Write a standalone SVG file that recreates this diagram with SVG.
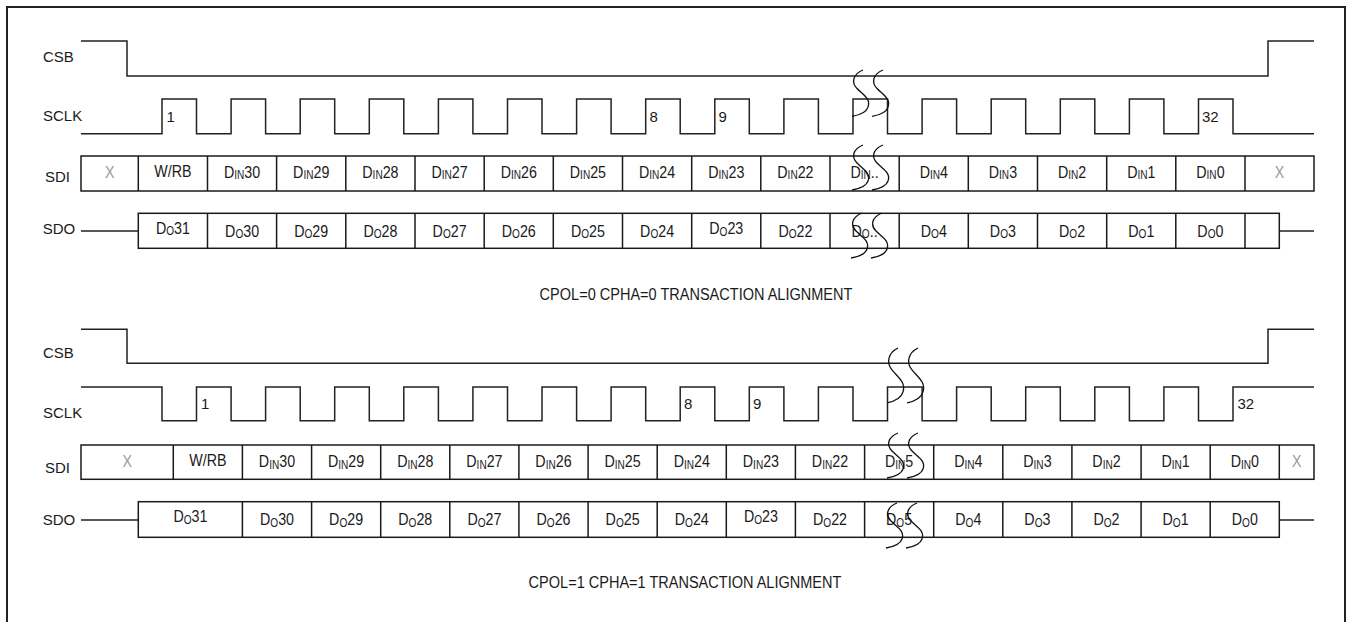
<svg xmlns="http://www.w3.org/2000/svg" xmlns:xlink="http://www.w3.org/1999/xlink" width="1351" height="622" viewBox="0 0 1351 622">
<style>
.ln{fill:none;stroke:#222;stroke-width:1.5}
.bx{fill:none;stroke:#1a1a1a;stroke-width:1.5}
.brk{fill:none;stroke:#111;stroke-width:1.3;vector-effect:non-scaling-stroke}
.nm{font-family:'Liberation Sans',Arial,sans-serif;font-size:15px;fill:#1a1a1a}
.c{font-family:'Liberation Sans',Arial,sans-serif;font-size:17px;fill:#1a1a1a;text-anchor:middle}
.s{font-size:12px}
.x{fill:#9a9a9a}
.t{font-family:'Liberation Sans',Arial,sans-serif;font-size:17px;fill:#1a1a1a;text-anchor:middle}
</style>
<defs>
<path id="brk" class="brk" d="M0,0 C-10,4 -12,12 -6,18 C0,24 8,28 5,36 C3,42 -5,44 -11,45"/>
</defs>
<rect width="1351" height="622" fill="#fff"/>
<path d="M7 622 V7 H1345 V622" fill="none" stroke="#222" stroke-width="2"/>

<!-- TOP: CPOL=0 CPHA=0 -->
<g id="top-csb">
<text class="nm" x="43" y="62.3">CSB</text>
<path class="ln" d="M81 41 H127 V76 H1268 V41 H1314"/>
</g>
<g id="top-sclk">
<text class="nm" x="43" y="120.7">SCLK</text>
<path class="ln" d="M81 133.7 H162 V99 H196.5 V133.7 H231.1 V99 H265.6 V133.7 H300.2 V99 H334.7 V133.7 H369.3 V99 H403.8 V133.7 H438.4 V99 H472.9 V133.7 H507.5 V99 H542 V133.7 H576.6 V99 H611.1 V133.7 H645.7 V99 H680.2 V133.7 H714.8 V99 H749.3 V133.7 H783.9 V99 H818.4 V133.7 H853 V99 H887.5 V133.7 H922.1 V99 H956.6 V133.7 H991.2 V99 H1025.7 V133.7 H1060.3 V99 H1094.8 V133.7 H1129.4 V99 H1163.9 V133.7 H1198.5 V99 H1233 V133.7 H1314"/>
<text class="nm" x="166.5" y="122">1</text>
<text class="nm" x="649.5" y="122">8</text>
<text class="nm" x="718.5" y="122">9</text>
<text class="nm" x="1202" y="122">32</text>
</g>
<g id="top-sdi">
<text class="nm" x="45" y="181.7">SDI</text>
<rect class="bx" x="81" y="156" width="1233" height="35"/>
<path class="bx" d="M138.3 156V191M207.5 156V191M276.6 156V191M345.8 156V191M415 156V191M484.2 156V191M553.3 156V191M622.5 156V191M691.7 156V191M760.8 156V191M830 156V191M899.2 156V191M968.3 156V191M1037.5 156V191M1106.7 156V191M1175.8 156V191M1245 156V191"/>
<text class="c x" transform="translate(109.7 177.5) scale(.84 1)">X</text>
<text class="c" transform="translate(172.9 177) scale(.84 1)">W/RB</text>
<text class="c" transform="translate(242.1 177.5) scale(.84 1)">D<tspan class="s" dy="1.5">IN</tspan><tspan dy="-1.5">30</tspan></text>
<text class="c" transform="translate(311.2 177.5) scale(.84 1)">D<tspan class="s" dy="1.5">IN</tspan><tspan dy="-1.5">29</tspan></text>
<text class="c" transform="translate(380.4 177.5) scale(.84 1)">D<tspan class="s" dy="1.5">IN</tspan><tspan dy="-1.5">28</tspan></text>
<text class="c" transform="translate(449.6 177.5) scale(.84 1)">D<tspan class="s" dy="1.5">IN</tspan><tspan dy="-1.5">27</tspan></text>
<text class="c" transform="translate(518.8 177.5) scale(.84 1)">D<tspan class="s" dy="1.5">IN</tspan><tspan dy="-1.5">26</tspan></text>
<text class="c" transform="translate(587.9 177.5) scale(.84 1)">D<tspan class="s" dy="1.5">IN</tspan><tspan dy="-1.5">25</tspan></text>
<text class="c" transform="translate(657.1 177.5) scale(.84 1)">D<tspan class="s" dy="1.5">IN</tspan><tspan dy="-1.5">24</tspan></text>
<text class="c" transform="translate(726.3 177.5) scale(.84 1)">D<tspan class="s" dy="1.5">IN</tspan><tspan dy="-1.5">23</tspan></text>
<text class="c" transform="translate(795.4 177.5) scale(.84 1)">D<tspan class="s" dy="1.5">IN</tspan><tspan dy="-1.5">22</tspan></text>
<text class="c" transform="translate(864.6 177.5) scale(.84 1)">D<tspan class="s" dy="1.5">IN</tspan><tspan dy="-1.5">..</tspan></text>
<text class="c" transform="translate(933.8 177.5) scale(.84 1)">D<tspan class="s" dy="1.5">IN</tspan><tspan dy="-1.5">4</tspan></text>
<text class="c" transform="translate(1002.9 177.5) scale(.84 1)">D<tspan class="s" dy="1.5">IN</tspan><tspan dy="-1.5">3</tspan></text>
<text class="c" transform="translate(1072.1 177.5) scale(.84 1)">D<tspan class="s" dy="1.5">IN</tspan><tspan dy="-1.5">2</tspan></text>
<text class="c" transform="translate(1141.3 177.5) scale(.84 1)">D<tspan class="s" dy="1.5">IN</tspan><tspan dy="-1.5">1</tspan></text>
<text class="c" transform="translate(1210.4 177.5) scale(.84 1)">D<tspan class="s" dy="1.5">IN</tspan><tspan dy="-1.5">0</tspan></text>
<text class="c x" transform="translate(1279.5 177.5) scale(.84 1)">X</text>
</g>
<g id="top-sdo">
<text class="nm" x="42.7" y="234">SDO</text>
<path class="ln" d="M81 231 H138.3 M1279.3 231 H1314"/>
<rect class="bx" x="138.3" y="213.3" width="1141" height="35"/>
<path class="bx" d="M207.5 213.3V248.3M276.6 213.3V248.3M345.8 213.3V248.3M415 213.3V248.3M484.2 213.3V248.3M553.3 213.3V248.3M622.5 213.3V248.3M691.7 213.3V248.3M760.8 213.3V248.3M830 213.3V248.3M899.2 213.3V248.3M968.3 213.3V248.3M1037.5 213.3V248.3M1106.7 213.3V248.3M1175.8 213.3V248.3M1245 213.3V248.3"/>
<text class="c" transform="translate(172.9 233.5) scale(.84 1)">D<tspan class="s" dy="1.5">O</tspan><tspan dy="-1.5">31</tspan></text>
<text class="c" transform="translate(242.1 236.5) scale(.84 1)">D<tspan class="s" dy="1.5">O</tspan><tspan dy="-1.5">30</tspan></text>
<text class="c" transform="translate(311.2 236.5) scale(.84 1)">D<tspan class="s" dy="1.5">O</tspan><tspan dy="-1.5">29</tspan></text>
<text class="c" transform="translate(380.4 236.5) scale(.84 1)">D<tspan class="s" dy="1.5">O</tspan><tspan dy="-1.5">28</tspan></text>
<text class="c" transform="translate(449.6 236.5) scale(.84 1)">D<tspan class="s" dy="1.5">O</tspan><tspan dy="-1.5">27</tspan></text>
<text class="c" transform="translate(518.8 236.5) scale(.84 1)">D<tspan class="s" dy="1.5">O</tspan><tspan dy="-1.5">26</tspan></text>
<text class="c" transform="translate(587.9 236.5) scale(.84 1)">D<tspan class="s" dy="1.5">O</tspan><tspan dy="-1.5">25</tspan></text>
<text class="c" transform="translate(657.1 236.5) scale(.84 1)">D<tspan class="s" dy="1.5">O</tspan><tspan dy="-1.5">24</tspan></text>
<text class="c" transform="translate(726.3 234) scale(.84 1)">D<tspan class="s" dy="1.5">O</tspan><tspan dy="-1.5">23</tspan></text>
<text class="c" transform="translate(795.4 236.5) scale(.84 1)">D<tspan class="s" dy="1.5">O</tspan><tspan dy="-1.5">22</tspan></text>
<text class="c" transform="translate(864.6 236.5) scale(.84 1)">D<tspan class="s" dy="1.5">O</tspan><tspan dy="-1.5">..</tspan></text>
<text class="c" transform="translate(933.8 236.5) scale(.84 1)">D<tspan class="s" dy="1.5">O</tspan><tspan dy="-1.5">4</tspan></text>
<text class="c" transform="translate(1002.9 236.5) scale(.84 1)">D<tspan class="s" dy="1.5">O</tspan><tspan dy="-1.5">3</tspan></text>
<text class="c" transform="translate(1072.1 236.5) scale(.84 1)">D<tspan class="s" dy="1.5">O</tspan><tspan dy="-1.5">2</tspan></text>
<text class="c" transform="translate(1141.3 236.5) scale(.84 1)">D<tspan class="s" dy="1.5">O</tspan><tspan dy="-1.5">1</tspan></text>
<text class="c" transform="translate(1210.4 236.5) scale(.84 1)">D<tspan class="s" dy="1.5">O</tspan><tspan dy="-1.5">0</tspan></text>
</g>
<g id="top-breaks">
<use xlink:href="#brk" href="#brk" transform="translate(863,70) scale(1,1.03)"/>
<use xlink:href="#brk" href="#brk" transform="translate(883,70) scale(1,1.03)"/>
<use xlink:href="#brk" href="#brk" transform="translate(863,145)"/>
<use xlink:href="#brk" href="#brk" transform="translate(883,145)"/>
<use xlink:href="#brk" href="#brk" transform="translate(862,213)"/>
<use xlink:href="#brk" href="#brk" transform="translate(882,213)"/>
</g>
<text id="top-title" class="t" transform="translate(696 299.5) scale(.855 1)">CPOL=0 CPHA=0 TRANSACTION ALIGNMENT</text>

<!-- BOTTOM: CPOL=1 CPHA=1 -->
<g id="bot-csb">
<text class="nm" x="43" y="358.3">CSB</text>
<path class="ln" d="M81 329.3 H127 V363.3 H1268 V329.3 H1314"/>
</g>
<g id="bot-sclk">
<text class="nm" x="43" y="417.7">SCLK</text>
<path class="ln" d="M81 387 H162 V420.7 H196.5 V387 H231.1 V420.7 H265.6 V387 H300.2 V420.7 H334.7 V387 H369.3 V420.7 H403.8 V387 H438.4 V420.7 H472.9 V387 H507.5 V420.7 H542 V387 H576.6 V420.7 H611.1 V387 H645.7 V420.7 H680.2 V387 H714.8 V420.7 H749.3 V387 H783.9 V420.7 H818.4 V387 H853 V420.7 H887.5 V387 H922.1 V420.7 H956.6 V387 H991.2 V420.7 H1025.7 V387 H1060.3 V420.7 H1094.8 V387 H1129.4 V420.7 H1163.9 V387 H1198.5 V420.7 H1233 V387 H1314"/>
<text class="nm" x="201" y="409">1</text>
<text class="nm" x="684" y="409">8</text>
<text class="nm" x="753" y="409">9</text>
<text class="nm" x="1237.5" y="409">32</text>
</g>
<g id="bot-sdi">
<text class="nm" x="45" y="472.7">SDI</text>
<rect class="bx" x="81" y="445" width="1233" height="34.3"/>
<path class="bx" d="M173.3 445V479.3M242.4 445V479.3M311.6 445V479.3M380.7 445V479.3M449.8 445V479.3M518.9 445V479.3M588.1 445V479.3M657.2 445V479.3M726.3 445V479.3M795.4 445V479.3M864.6 445V479.3M933.7 445V479.3M1002.8 445V479.3M1071.9 445V479.3M1141.1 445V479.3M1210.2 445V479.3M1279.3 445V479.3"/>
<text class="c x" transform="translate(127.2 467) scale(.84 1)">X</text>
<text class="c" transform="translate(207.9 466) scale(.84 1)">W/RB</text>
<text class="c" transform="translate(277 467) scale(.84 1)">D<tspan class="s" dy="1.5">IN</tspan><tspan dy="-1.5">30</tspan></text>
<text class="c" transform="translate(346.1 467) scale(.84 1)">D<tspan class="s" dy="1.5">IN</tspan><tspan dy="-1.5">29</tspan></text>
<text class="c" transform="translate(415.3 467) scale(.84 1)">D<tspan class="s" dy="1.5">IN</tspan><tspan dy="-1.5">28</tspan></text>
<text class="c" transform="translate(484.4 467) scale(.84 1)">D<tspan class="s" dy="1.5">IN</tspan><tspan dy="-1.5">27</tspan></text>
<text class="c" transform="translate(553.5 467) scale(.84 1)">D<tspan class="s" dy="1.5">IN</tspan><tspan dy="-1.5">26</tspan></text>
<text class="c" transform="translate(622.6 467) scale(.84 1)">D<tspan class="s" dy="1.5">IN</tspan><tspan dy="-1.5">25</tspan></text>
<text class="c" transform="translate(691.8 467) scale(.84 1)">D<tspan class="s" dy="1.5">IN</tspan><tspan dy="-1.5">24</tspan></text>
<text class="c" transform="translate(760.9 467) scale(.84 1)">D<tspan class="s" dy="1.5">IN</tspan><tspan dy="-1.5">23</tspan></text>
<text class="c" transform="translate(830 467) scale(.84 1)">D<tspan class="s" dy="1.5">IN</tspan><tspan dy="-1.5">22</tspan></text>
<text class="c" transform="translate(899.1 467) scale(.84 1)">D<tspan class="s" dy="1.5">IN</tspan><tspan dy="-1.5">5</tspan></text>
<text class="c" transform="translate(968.3 467) scale(.84 1)">D<tspan class="s" dy="1.5">IN</tspan><tspan dy="-1.5">4</tspan></text>
<text class="c" transform="translate(1037.4 467) scale(.84 1)">D<tspan class="s" dy="1.5">IN</tspan><tspan dy="-1.5">3</tspan></text>
<text class="c" transform="translate(1106.5 467) scale(.84 1)">D<tspan class="s" dy="1.5">IN</tspan><tspan dy="-1.5">2</tspan></text>
<text class="c" transform="translate(1175.6 467) scale(.84 1)">D<tspan class="s" dy="1.5">IN</tspan><tspan dy="-1.5">1</tspan></text>
<text class="c" transform="translate(1244.8 467) scale(.84 1)">D<tspan class="s" dy="1.5">IN</tspan><tspan dy="-1.5">0</tspan></text>
<text class="c x" transform="translate(1296.7 467) scale(.84 1)">X</text>
</g>
<g id="bot-sdo">
<text class="nm" x="42.7" y="525">SDO</text>
<path class="ln" d="M81 520 H138.3 M1279.3 520 H1314"/>
<rect class="bx" x="138.3" y="501.7" width="1141" height="35.6"/>
<path class="bx" d="M242.4 501.7V537.3M311.6 501.7V537.3M380.7 501.7V537.3M449.8 501.7V537.3M518.9 501.7V537.3M588.1 501.7V537.3M657.2 501.7V537.3M726.3 501.7V537.3M795.4 501.7V537.3M864.6 501.7V537.3M933.7 501.7V537.3M1002.8 501.7V537.3M1071.9 501.7V537.3M1141.1 501.7V537.3M1210.2 501.7V537.3"/>
<text class="c" transform="translate(190.4 522) scale(.84 1)">D<tspan class="s" dy="1.5">O</tspan><tspan dy="-1.5">31</tspan></text>
<text class="c" transform="translate(277 525) scale(.84 1)">D<tspan class="s" dy="1.5">O</tspan><tspan dy="-1.5">30</tspan></text>
<text class="c" transform="translate(346.1 525) scale(.84 1)">D<tspan class="s" dy="1.5">O</tspan><tspan dy="-1.5">29</tspan></text>
<text class="c" transform="translate(415.3 525) scale(.84 1)">D<tspan class="s" dy="1.5">O</tspan><tspan dy="-1.5">28</tspan></text>
<text class="c" transform="translate(484.4 525) scale(.84 1)">D<tspan class="s" dy="1.5">O</tspan><tspan dy="-1.5">27</tspan></text>
<text class="c" transform="translate(553.5 525) scale(.84 1)">D<tspan class="s" dy="1.5">O</tspan><tspan dy="-1.5">26</tspan></text>
<text class="c" transform="translate(622.6 525) scale(.84 1)">D<tspan class="s" dy="1.5">O</tspan><tspan dy="-1.5">25</tspan></text>
<text class="c" transform="translate(691.8 525) scale(.84 1)">D<tspan class="s" dy="1.5">O</tspan><tspan dy="-1.5">24</tspan></text>
<text class="c" transform="translate(760.9 522) scale(.84 1)">D<tspan class="s" dy="1.5">O</tspan><tspan dy="-1.5">23</tspan></text>
<text class="c" transform="translate(830 525) scale(.84 1)">D<tspan class="s" dy="1.5">O</tspan><tspan dy="-1.5">22</tspan></text>
<text class="c" transform="translate(899.1 525) scale(.84 1)">D<tspan class="s" dy="1.5">O</tspan><tspan dy="-1.5">5</tspan></text>
<text class="c" transform="translate(968.3 525) scale(.84 1)">D<tspan class="s" dy="1.5">O</tspan><tspan dy="-1.5">4</tspan></text>
<text class="c" transform="translate(1037.4 525) scale(.84 1)">D<tspan class="s" dy="1.5">O</tspan><tspan dy="-1.5">3</tspan></text>
<text class="c" transform="translate(1106.5 525) scale(.84 1)">D<tspan class="s" dy="1.5">O</tspan><tspan dy="-1.5">2</tspan></text>
<text class="c" transform="translate(1175.6 525) scale(.84 1)">D<tspan class="s" dy="1.5">O</tspan><tspan dy="-1.5">1</tspan></text>
<text class="c" transform="translate(1244.8 525) scale(.84 1)">D<tspan class="s" dy="1.5">O</tspan><tspan dy="-1.5">0</tspan></text>
</g>
<g id="bot-breaks">
<use xlink:href="#brk" href="#brk" transform="translate(898,348) scale(1,1.22)"/>
<use xlink:href="#brk" href="#brk" transform="translate(918,348) scale(1,1.22)"/>
<use xlink:href="#brk" href="#brk" transform="translate(898,433)"/>
<use xlink:href="#brk" href="#brk" transform="translate(918,433)"/>
<use xlink:href="#brk" href="#brk" transform="translate(897,503)"/>
<use xlink:href="#brk" href="#brk" transform="translate(917,503)"/>
</g>
<text id="bot-title" class="t" transform="translate(685 588) scale(.855 1)">CPOL=1 CPHA=1 TRANSACTION ALIGNMENT</text>
</svg>
